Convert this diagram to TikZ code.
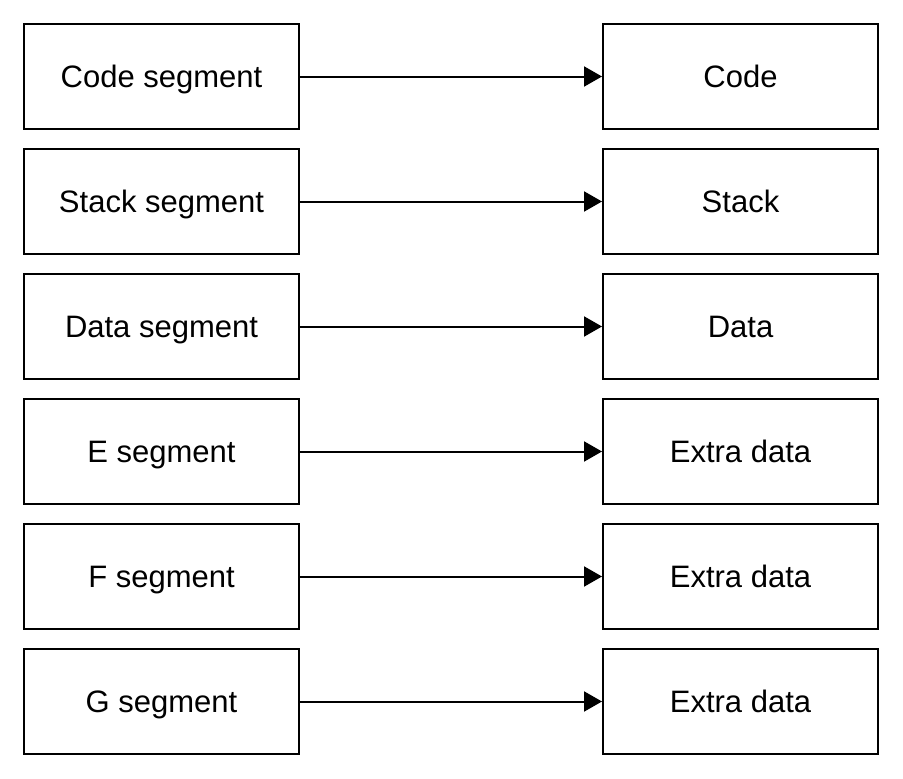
\documentclass[tikz,border=0pt]{standalone}
\usepackage{fontspec}
\setmainfont{Liberation Sans}
\usetikzlibrary{arrows.meta}
\begin{document}
\begin{tikzpicture}[x=1pt,y=-1pt,
  box/.style={draw,line width=2pt,minimum width=275pt,minimum height=105pt,inner sep=0pt,text height=22pt,text depth=0pt,font=\fontsize{31}{37}\selectfont},
  conn/.style={line width=2pt,-{Triangle[length=18pt,width=20pt]}}]
\useasboundingbox (0,0) rectangle (903,779);
\foreach \i/\l/\r in {0/Code segment/Code,1/Stack segment/Stack,2/Data segment/Data,3/E segment/Extra data,4/F segment/Extra data,5/G segment/Extra data}{
  \node[box] (L\i) at (161.5,{76.5+125*\i}) {\l};
  \node[box] (R\i) at (740.5,{76.5+125*\i}) {\r};
  \draw[conn] (L\i) -- (R\i);
}
\end{tikzpicture}
\end{document}
